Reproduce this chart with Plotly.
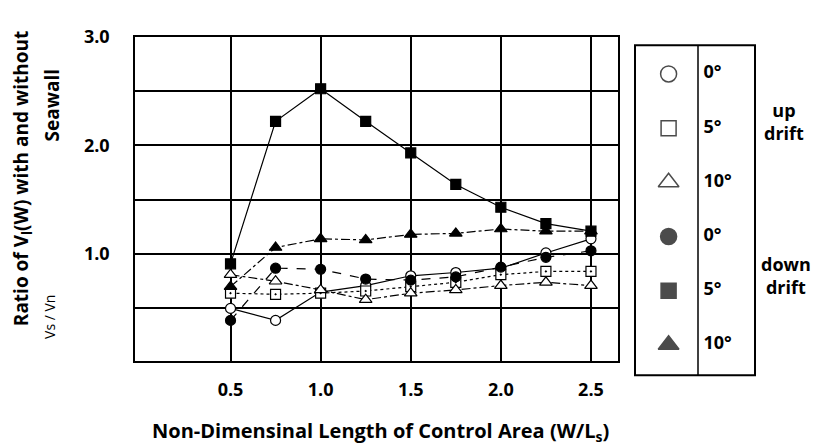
import plotly.graph_objects as go

# page body has an 8px margin, so the figure is drawn 8px in from the top-left
OFF = 8
W, H = 823 - OFF, 446 - OFF

# ---- data ----
x_vals = [0.5, 0.75, 1.0, 1.25, 1.5, 1.75, 2.0, 2.25, 2.5]
up_0 = [0.50, 0.39, 0.65, 0.71, 0.80, 0.83, 0.87, 1.01, 1.14]
up_5 = [0.64, 0.63, 0.64, 0.66, 0.70, 0.74, 0.81, 0.84, 0.84]
up_10 = [0.81, 0.75, 0.67, 0.58, 0.64, 0.67, 0.71, 0.74, 0.71]
down_0 = [0.39, 0.87, 0.86, 0.77, 0.76, 0.79, 0.88, 0.97, 1.03]
down_5 = [0.91, 2.22, 2.52, 2.22, 1.93, 1.64, 1.43, 1.28, 1.21]
down_10 = [0.70, 1.06, 1.14, 1.13, 1.18, 1.19, 1.23, 1.21, 1.21]

x_ticks = [0.5, 1.0, 1.5, 2.0, 2.5]
x_ticktext = ["0.5", "1.0", "1.5", "2.0", "2.5"]
y_ticks = [1.0, 2.0, 3.0]
y_ticktext = ["1.0", "2.0", "3.0"]

legend_labels = ["0°", "5°", "10°", "0°", "5°", "10°"]
legend_rows = [0, 1, 2, 3, 4, 5]

FONT = "Open Sans"

series = [
    (up_0, "circle", "white", "solid", 10),
    (up_5, "square-dot", "white", "dot", 10),
    (up_10, "triangle-up", "white", "dashdot", 11),
    (down_0, "circle", "black", "dash", 10),
    (down_5, "square", "black", "solid", 10),
    (down_10, "triangle-up", "black", "dashdot", 11),
]
legend_symbols = ["circle", "square", "triangle-up", "circle", "square", "triangle-up"]
legend_fills = ["white", "white", "white", "black", "black", "black"]
legend_sizes = [16, 15, 18, 16, 15, 18]

fig = go.Figure()
for vals, sym, fill, dash, size in series:
    fig.add_trace(go.Scatter(
        x=x_vals, y=vals, mode="lines+markers",
        line=dict(color="black", width=1.2, dash=dash),
        marker=dict(symbol=sym, size=size, color=fill,
                    line=dict(color="black", width=1.2)),
        showlegend=False, cliponaxis=False,
    ))

# legend markers
fig.add_trace(go.Scatter(
    x=[0.28] * 6, y=legend_rows, mode="markers",
    marker=dict(symbol=legend_symbols, size=legend_sizes, color=legend_fills,
                line=dict(color="black", width=1.5)),
    xaxis="x2", yaxis="y2", showlegend=False,
))
fig.add_trace(go.Scatter(
    x=[0.57] * 6, y=legend_rows, mode="text", text=legend_labels,
    textposition="middle right",
    textfont=dict(family=FONT, size=18, color="black", weight="bold"),
    xaxis="x2", yaxis="y2", showlegend=False,
))

px = lambda v: (v - OFF) / W
py = lambda v: 1 - (v - OFF) / H

fig.update_layout(
    width=W, height=H,
    margin=dict(l=0, r=0, t=0, b=0),
    paper_bgcolor="white", plot_bgcolor="white",
    xaxis=dict(domain=[px(135), px(618)], range=[-0.03, 2.65],
               tickvals=x_ticks, ticktext=x_ticktext,
               showgrid=True, gridcolor="black", gridwidth=1.5,
               showline=True, linecolor="black", linewidth=1.5, mirror=True,
               zeroline=False, ticks="", ticklabelstandoff=12,
               tickfont=dict(family=FONT, size=18, color="black", weight="bold")),
    yaxis=dict(domain=[py(358), py(24)], range=[0.02, 3.0],
               tickvals=y_ticks, ticktext=y_ticktext,
               showgrid=True, gridcolor="black", gridwidth=2,
               minor=dict(dtick=0.5, tick0=0, showgrid=True, gridcolor="black",
                          gridwidth=2, ticks=""),
               showline=True, linecolor="black", linewidth=1.5, mirror=True,
               zeroline=False, ticks="", ticklabelstandoff=20,
               tickfont=dict(family=FONT, size=18, color="black", weight="bold")),
    xaxis2=dict(domain=[px(635), px(755)], range=[0, 1], visible=False, anchor="y2"),
    yaxis2=dict(domain=[py(373), py(33)], range=[5.56, -0.53], visible=False, anchor="x2"),
    shapes=[
        dict(type="rect", xref="paper", yref="paper",
             x0=px(635), x1=px(755), y0=py(373), y1=py(33),
             line=dict(color="black", width=2)),
        dict(type="line", xref="paper", yref="paper",
             x0=px(698), x1=px(698), y0=py(373), y1=py(33),
             line=dict(color="black", width=1.5)),
    ],
    annotations=[
        dict(text="Non-Dimensinal Length of Control Area (W/L<sub>s</sub>)",
             xref="paper", yref="paper", x=px(380), y=py(431),
             showarrow=False, xanchor="center", yanchor="middle",
             font=dict(family=FONT, size=20, color="black", weight="bold")),
        dict(text="Ratio of V<sub>l</sub>(W) with and without",
             xref="paper", yref="paper", x=px(22), y=py(171), textangle=-90,
             showarrow=False, xanchor="center", yanchor="middle",
             font=dict(family=FONT, size=19, color="black", weight="bold")),
        dict(text="Seawall",
             xref="paper", yref="paper", x=px(52), y=py(95), textangle=-90,
             showarrow=False, xanchor="center", yanchor="middle",
             font=dict(family=FONT, size=19, color="black", weight="bold")),
        dict(text="Vs / Vn",
             xref="paper", yref="paper", x=px(50), y=py(313), textangle=-90,
             showarrow=False, xanchor="center", yanchor="middle",
             font=dict(family=FONT, size=14, color="black")),
        dict(text="up<br>drift",
             xref="paper", yref="paper", x=px(784), y=py(112),
             showarrow=False, xanchor="center", yanchor="middle",
             font=dict(family=FONT, size=18, color="black", weight="bold")),
        dict(text="down<br>drift",
             xref="paper", yref="paper", x=px(786), y=py(270),
             showarrow=False, xanchor="center", yanchor="middle",
             font=dict(family=FONT, size=18, color="black", weight="bold")),
    ],
)

fig.write_html("out.html")
